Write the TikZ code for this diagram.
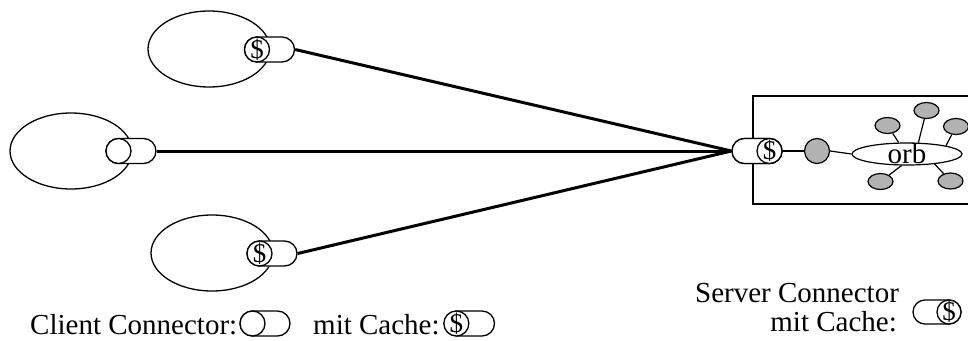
\documentclass[tikz,border=0pt]{standalone}
\usepackage{fontspec}
\setmainfont{Liberation Serif}
\usetikzlibrary{shapes.geometric,shapes.misc}
\tikzset{
  ell/.style={ellipse, draw, line width=1.3pt, inner sep=0pt, minimum width=122pt, minimum height=76pt},
  capsule/.style={rounded rectangle, draw, fill=white, line width=1.3pt, inner sep=0pt, minimum width=50pt, minimum height=25pt},
  plainc/.style={circle, draw, fill=white, line width=1.3pt, inner sep=0pt, minimum size=25pt},
  dollar/.style={plainc, label={[font=\fontsize{27}{27}\selectfont, inner sep=0pt]center:\$}},
  conn/.style={line width=3pt},
  thinl/.style={line width=1.2pt},
  grayball/.style={ellipse, draw, fill=gray!60, line width=1.2pt, inner sep=0pt, minimum width=25pt, minimum height=16pt},
  lbl/.style={font=\fontsize{29}{32}\selectfont, inner sep=0pt},
}
\begin{document}
\begin{tikzpicture}[x=1pt, y=-1pt]
\useasboundingbox (0,0) rectangle (968,340);
\clip (0,0) rectangle (968,340);

% client ellipses
\node[ell] (e1) at (209,49) {};
\node[ell] (e2) at (71,151) {};
\node[ell] (e3) at (212,253) {};

% server box
\node[rectangle, draw, line width=1.3pt, minimum width=232pt, minimum height=108pt, inner sep=0pt] (box) at (869,150) {};

% client connectors
\node[capsule] (c1) at (269.5,49.5) {};
\node[dollar] (d1) at (257,49.5) {};
\node[capsule] (c2) at (131,151) {};
\node[plainc] (d2) at (118.5,151) {};
\node[capsule] (c3) at (272,253.5) {};
\node[dollar] (d3) at (259.5,253.5) {};

% server connector position
\coordinate (cspos) at (757,151);
\node[capsule] (cs) at (cspos) {};

% connector lines
\draw[conn] (c1.east) -- (cs.west);
\draw[conn] (c2.east) -- (cs.west);
\draw[conn] (c3.east) -- (cs.west);

% redraw server capsule on top
\node[capsule] (cs2) at (cspos) {};
\node[dollar] (ds) at (769.5,151) {};

% orb part
\node[grayball, minimum width=25pt, minimum height=25pt, circle] (g) at (817,151) {};
\node[ellipse, draw, fill=white, line width=1.2pt, inner sep=0pt, minimum width=110pt, minimum height=22pt] (orb) at (907,154) {};
\node[grayball] (s1) at (887.5,125.5) {};
\node[grayball] (s2) at (926.5,110.5) {};
\node[grayball] (s3) at (956,126.5) {};
\node[grayball] (s4) at (880.5,181.5) {};
\node[grayball] (s5) at (950.5,181) {};
\draw[thinl] (ds.east) -- (g.west);
\draw[thinl] (g.east) -- (orb.west);
\draw[thinl] (s1) -- (orb.126);
\draw[thinl] (s2) -- (orb.45);
\draw[thinl] (s3) -- (orb.12);
\draw[thinl] (s4) -- (orb.245);
\draw[thinl] (s5) -- (orb.-20);
\node[lbl, anchor=base] (orbt) at (907,163) {orb};

% legend
\node[lbl, anchor=base west] (lc) at (30,334) {Client Connector:};
\node[capsule] (lc1) at (265,323.5) {};
\node[plainc] (lc1c) at (252.5,323.5) {};
\node[lbl, anchor=base west] (lm) at (313,334) {mit Cache:};
\node[capsule, anchor=west] (lc2) at ([xshift=4pt]lm.east |- 0,323.5) {};
\node[dollar] (lc2c) at ([xshift=12.5pt]lc2.west) {};

\node[lbl, anchor=base west] (ls1) at (695,302) {Server Connector};
\node[lbl, anchor=base east] (ls2) at (897,331) {mit Cache:};
\node[capsule, minimum width=48pt, minimum height=24pt] (lsc) at (937,312) {};
\node[dollar, minimum size=24pt] (lscc) at (949,312) {};
\end{tikzpicture}
\end{document}
